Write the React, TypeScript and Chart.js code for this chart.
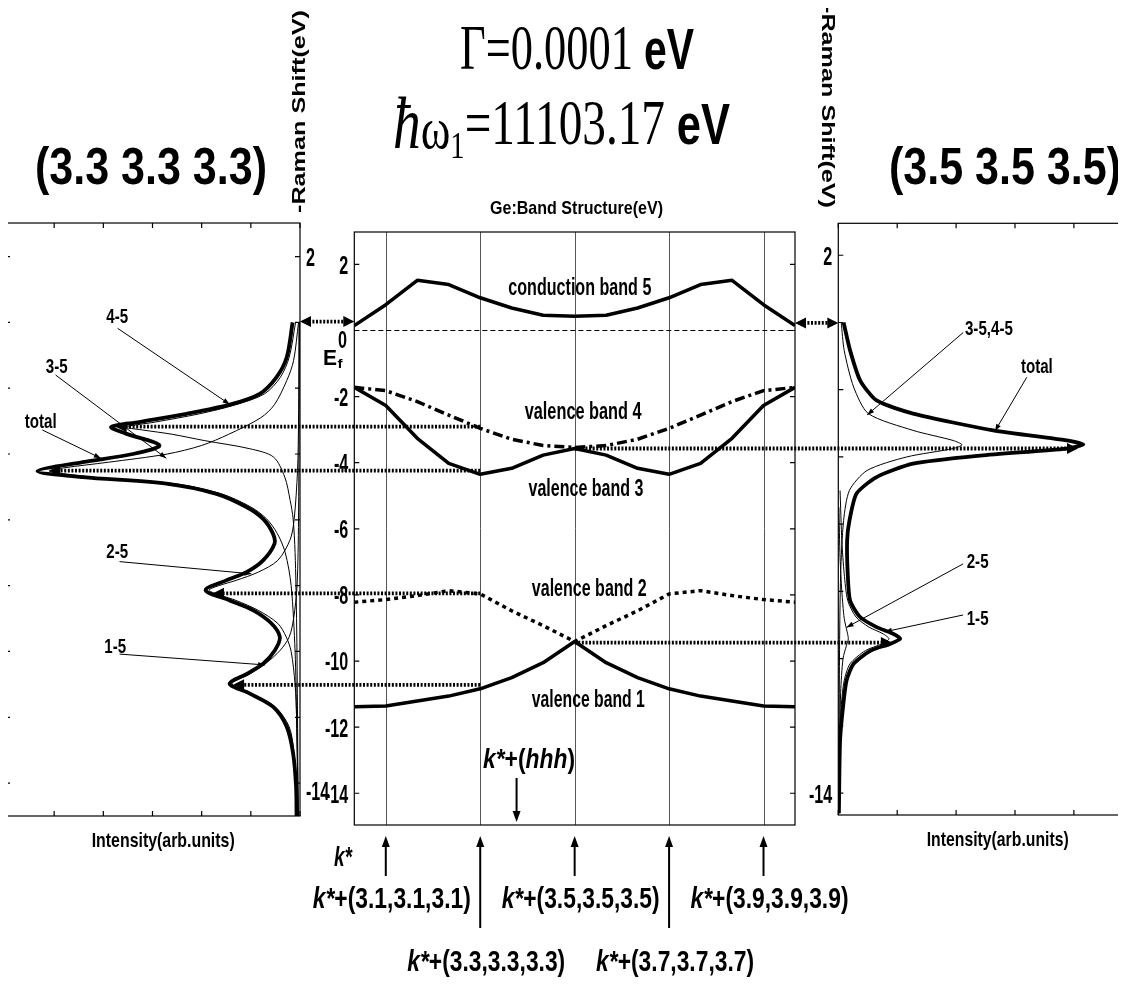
import React, { useEffect, useRef } from "react";
import { Chart, registerables } from "chart.js";

Chart.register(...registerables);

const W = 1140;
const H = 989;

const SANS = '"Liberation Sans", Arial, Helvetica, sans-serif';
const SERIF = '"Liberation Serif", "Times New Roman", Times, serif';
const B = (s: number) => `bold ${s}px ${SANS}`;
const BI = (s: number) => `italic bold ${s}px ${SANS}`;
const SR = (s: number) => `${s}px ${SERIF}`;
const SRI = (s: number) => `italic ${s}px ${SERIF}`;

// ---------------- data ----------------
const E_TICKS = [2, 0, -2, -4, -6, -8, -10, -12, -14];
const LEFT_I_TICKS = [0, 1, 2, 3, 4, 5, 6];
const RIGHT_I_TICKS = [0, 1, 2, 3, 4, 5];
const LEFT_LABEL_VALUES = [2, -14];
const CENTER_LABEL_VALUES = [2, -2, -4, -6, -8, -10, -12, -14];
const RIGHT_LABEL_VALUES = [2, -14];

// centre panel: band structure along k*+(hhh)
const K_NODES = [3.0333, 3.1, 3.1667, 3.2333, 3.3, 3.3667, 3.4333, 3.5, 3.5667, 3.6333, 3.7, 3.7667, 3.8333, 3.9, 3.9667];
const K_GRID = [3.1, 3.3, 3.5, 3.7, 3.9];
const BAND5 = [0.15, 0.78, 1.52, 1.39, 0.99, 0.68, 0.46, 0.43, 0.46, 0.68, 0.99, 1.39, 1.52, 0.78, 0.15];
const BAND4 = [-1.72, -1.82, -2.15, -2.56, -2.96, -3.29, -3.48, -3.54, -3.48, -3.29, -2.96, -2.56, -2.15, -1.82, -1.72];
const BAND3 = [-1.72, -2.27, -3.26, -4.02, -4.35, -4.17, -3.77, -3.57, -3.77, -4.17, -4.35, -4.02, -3.26, -2.27, -1.72];
const BAND2 = [-8.22, -8.14, -8.02, -7.87, -7.97, -8.48, -8.93, -9.41, -8.93, -8.48, -7.97, -7.87, -8.02, -8.14, -8.22];
const BAND1 = [-11.38, -11.36, -11.21, -11.06, -10.84, -10.5, -10.05, -9.41, -10.05, -10.5, -10.84, -11.06, -11.21, -11.36, -11.38];
const EF_LEVEL = 0;
const HHH_K = 3.377;

// left panel: (3.3 3.3 3.3) spectra, Raman shift E vs intensity I
const L_TOTAL_E = [0, -1.06, -1.67, -2.17, -2.5, -2.78, -3.03, -3.18, -3.38, -3.74, -4.0, -4.25, -4.52, -4.7, -4.9, -5.21, -5.61, -5.97, -6.42, -6.73, -7.23, -7.59, -7.84, -8.14, -8.45, -8.75, -9.15, -9.56, -9.96, -10.37, -10.67, -10.98, -11.28, -11.69, -12.29, -13.1, -14.11, -15.0];
const L_TOTAL_I = [0.15, 0.27, 0.48, 0.82, 1.43, 2.31, 3.27, 3.84, 3.54, 2.86, 3.4, 4.42, 5.34, 4.42, 2.72, 1.7, 1.09, 0.75, 0.55, 0.52, 0.75, 1.09, 1.5, 1.92, 1.43, 0.95, 0.58, 0.41, 0.51, 0.75, 1.07, 1.43, 1.02, 0.54, 0.27, 0.14, 0.08, 0.07];
const L_45_E = [0, -1.06, -1.67, -2.17, -2.5, -2.78, -3.03, -3.18, -3.27, -3.4, -3.59, -3.84, -4.09, -4.7, -5.41, -5.97, -7.0, -9.0, -12.0, -15.0];
const L_45_I = [0.09, 0.22, 0.4, 0.72, 1.3, 2.05, 2.95, 3.55, 3.2, 2.6, 1.95, 1.02, 0.54, 0.31, 0.2, 0.14, 0.1, 0.07, 0.05, 0.04];
const L_35_E = [0, -1.16, -1.77, -2.5, -2.9, -3.4, -3.74, -4.0, -4.25, -4.42, -4.52, -4.62, -4.75, -4.9, -5.21, -5.61, -5.97, -6.42, -7.0, -8.0, -10.0, -12.0, -15.0];
const L_35_I = [0.03, 0.13, 0.27, 0.52, 0.8, 1.45, 2.0, 2.7, 3.9, 4.8, 5.1, 4.7, 3.9, 2.55, 1.6, 1.0, 0.68, 0.46, 0.3, 0.18, 0.1, 0.07, 0.04];
const L_25_E = [0, -3.0, -4.5, -6.0, -6.6, -7.23, -7.59, -7.84, -8.0, -8.14, -8.3, -8.45, -8.75, -9.15, -9.56, -10.0, -11.0, -12.0, -15.0];
const L_25_I = [0.02, 0.03, 0.05, 0.12, 0.2, 0.45, 0.85, 1.3, 1.65, 1.85, 1.6, 1.3, 0.85, 0.45, 0.28, 0.18, 0.1, 0.07, 0.03];
const L_15_E = [0, -6.0, -8.0, -9.0, -9.56, -9.96, -10.37, -10.67, -10.98, -11.28, -11.69, -12.29, -13.1, -14.1, -15.0];
const L_15_I = [0.01, 0.03, 0.06, 0.13, 0.22, 0.4, 0.7, 1.0, 1.38, 0.98, 0.5, 0.22, 0.12, 0.07, 0.05];

// right panel: (3.5 3.5 3.5) spectra
const R_TOTAL_E = [0, -0.83, -1.72, -2.32, -2.71, -3.21, -3.51, -3.63, -3.75, -3.96, -4.2, -4.6, -5.09, -5.89, -6.48, -7.47, -8.27, -8.76, -9.06, -9.26, -9.41, -9.56, -9.76, -10.15, -10.65, -11.44, -12.43, -14.6];
const R_TOTAL_I = [0.09, 0.2, 0.37, 0.65, 1.27, 2.63, 3.88, 4.16, 3.88, 2.41, 1.27, 0.65, 0.31, 0.19, 0.15, 0.16, 0.2, 0.37, 0.65, 0.93, 1.05, 0.88, 0.55, 0.26, 0.14, 0.08, 0.03, 0.01];
const R_3545_E = [0, -0.83, -1.92, -2.71, -3.21, -3.51, -3.64, -3.75, -4.0, -4.4, -4.99, -5.89, -7.47, -10.0, -14.6];
const R_3545_I = [0.05, 0.1, 0.26, 0.51, 1.27, 1.95, 2.1, 1.95, 1.16, 0.49, 0.19, 0.09, 0.04, 0.02, 0.01];
const R_15_E = [-5.0, -6.5, -7.47, -8.27, -8.76, -9.06, -9.26, -9.41, -9.56, -9.76, -10.15, -10.65, -11.44, -12.43, -14.6];
const R_15_I = [0.03, 0.06, 0.1, 0.16, 0.3, 0.52, 0.76, 0.86, 0.74, 0.46, 0.2, 0.1, 0.05, 0.03, 0.01];
const R_25_E = [-5.5, -7.0, -8.0, -8.8, -9.2, -9.41, -9.6, -10.0, -11.0, -13.0, -14.6];
const R_25_I = [0.01, 0.03, 0.06, 0.1, 0.15, 0.17, 0.14, 0.08, 0.04, 0.02, 0.01];

// dotted arrows: Raman peak (I on side panel) <- band point (k, E on centre scale)
const LEFT_ARROW_E = [-2.91, -4.24, -7.95, -10.72];
const LEFT_ARROW_K = [3.3, 3.3, 3.3, 3.3];
const LEFT_ARROW_I = [3.75, 5.1, 1.77, 1.36];
const RIGHT_ARROW_E = [-3.57, -9.44];
const RIGHT_ARROW_K = [3.5, 3.5];
const RIGHT_ARROW_I = [4.07, 0.91];
const TOP_ARROW_E = [0.27, 0.23];

// peak labels with leader lines (data coordinates of each side panel)
const LEFT_NOTE_TEXT = ["4-5", "3-5", "total", "2-5", "1-5"];
const LEFT_NOTE_TX = [3.94, 5.17, 5.6, 3.94, 3.98];
const LEFT_NOTE_TE = [-0.02, -1.53, -3.21, -7.15, -10.05];
const LEFT_NOTE_FROM_I = [3.71, 4.97, 5.24, 3.67, 3.67];
const LEFT_NOTE_FROM_E = [-0.18, -1.6, -3.27, -7.27, -10.08];
const LEFT_NOTE_TO_I = [1.43, 2.72, 4.05, 0.99, 0.71];
const LEFT_NOTE_TO_E = [-2.49, -4.13, -4.13, -7.64, -10.41];

const RIGHT_NOTE_TEXT = ["3-5,4-5", "total", "2-5", "1-5"];
const RIGHT_NOTE_TX = [2.15, 3.1, 2.18, 2.18];
const RIGHT_NOTE_TE = [-0.37, -1.5, -7.3, -9.0];
const RIGHT_NOTE_FROM_I = [2.12, 3.2, 2.12, 2.12];
const RIGHT_NOTE_FROM_E = [-0.3, -1.63, -7.18, -8.7];
const RIGHT_NOTE_TO_I = [0.49, 2.66, 0.14, 0.79];
const RIGHT_NOTE_TO_E = [-2.75, -3.23, -9.07, -9.2];

// band labels (centre panel)
const BAND_LABEL_TEXT = ["conduction band 5", "valence band 4", "valence band 3", "valence band 2", "valence band 1"];
const BAND_LABEL_K = [3.511, 3.518, 3.524, 3.531, 3.529];
const BAND_LABEL_E = [1.07, -2.68, -5.0, -8.02, -11.4];
const BAND_LABEL_W = [143, 117, 115, 115, 113];

// ---------------- drawing helpers ----------------
type Part = [string, string, number?];

function drawRich(ctx: any, parts: Part[], x: number, y: number, o: any) {
  ctx.save();
  let total = 0;
  const ws = parts.map((p) => {
    ctx.font = p[1];
    const w = ctx.measureText(p[0]).width;
    total += w;
    return w;
  });
  const sx = o.w ? o.w / total : o.sx || 1;
  ctx.translate(x, y);
  if (o.rot) ctx.rotate(o.rot);
  ctx.scale(sx, 1);
  let cx = o.align === "center" ? -total / 2 : o.align === "right" ? -total : 0;
  ctx.fillStyle = "#000";
  ctx.textBaseline = "alphabetic";
  ctx.textAlign = "left";
  parts.forEach((p, i) => {
    ctx.font = p[1];
    ctx.fillText(p[0], cx, p[2] || 0);
    cx += ws[i];
  });
  ctx.restore();
}

function head(ctx: any, x: number, y: number, ang: number, L: number, hw: number) {
  const c = Math.cos(ang);
  const s = Math.sin(ang);
  const bx = x - c * L;
  const by = y - s * L;
  ctx.beginPath();
  ctx.moveTo(x, y);
  ctx.lineTo(bx - s * hw, by + c * hw);
  ctx.lineTo(bx + s * hw, by - c * hw);
  ctx.closePath();
  ctx.fill();
}

function dotted(ctx: any, xa: number, xb: number, y: number, headA: boolean, headB: boolean) {
  ctx.save();
  ctx.strokeStyle = "#000";
  ctx.fillStyle = "#000";
  ctx.lineWidth = 3.8;
  ctx.setLineDash([2, 1.6]);
  const dir = Math.sign(xb - xa) || 1;
  const L = 11;
  const s = headA ? xa + dir * L * 0.8 : xa;
  const e = headB ? xb - dir * L * 0.8 : xb;
  ctx.beginPath();
  ctx.moveTo(s, y);
  ctx.lineTo(e, y);
  ctx.stroke();
  ctx.setLineDash([]);
  if (headA) head(ctx, xa, y, dir > 0 ? Math.PI : 0, L, 5.5);
  if (headB) head(ctx, xb, y, dir > 0 ? 0 : Math.PI, L, 5.5);
  ctx.restore();
}

function leader(ctx: any, x1: number, y1: number, x2: number, y2: number) {
  ctx.save();
  ctx.strokeStyle = "#000";
  ctx.fillStyle = "#000";
  ctx.lineWidth = 1;
  ctx.beginPath();
  ctx.moveTo(x1, y1);
  ctx.lineTo(x2, y2);
  ctx.stroke();
  head(ctx, x2, y2, Math.atan2(y2 - y1, x2 - x1), 7, 2.5);
  ctx.restore();
}

function vArrow(ctx: any, x: number, yTail: number, yTip: number, lw: number) {
  ctx.save();
  ctx.strokeStyle = "#000";
  ctx.fillStyle = "#000";
  ctx.lineWidth = lw;
  const dir = Math.sign(yTip - yTail);
  ctx.beginPath();
  ctx.moveTo(x, yTail);
  ctx.lineTo(x, yTip - dir * 8);
  ctx.stroke();
  head(ctx, x, yTip, dir > 0 ? Math.PI / 2 : -Math.PI / 2, 11, 4);
  ctx.restore();
}

const TICK_SIZE = 26;
const TICK_FONT = B(TICK_SIZE);
const TICK_SX = 0.62;

function drawFrame(chart: any, spec: any) {
  const ctx = chart.ctx;
  const a = chart.chartArea;
  const xs = chart.scales.x;
  const ys = chart.scales.y;
  ctx.save();
  ctx.strokeStyle = "#000";
  ctx.lineWidth = 1.2;
  ctx.strokeRect(a.left, a.top, a.right - a.left, a.bottom - a.top);
  const tl = 5;
  ctx.beginPath();
  (spec.xTicks || []).forEach((v: number) => {
    const x = xs.getPixelForValue(v);
    ctx.moveTo(x, a.top);
    ctx.lineTo(x, a.top + tl);
    ctx.moveTo(x, a.bottom);
    ctx.lineTo(x, a.bottom - tl);
  });
  E_TICKS.forEach((v) => {
    const y = ys.getPixelForValue(v);
    ctx.moveTo(a.left, y);
    ctx.lineTo(a.left + tl, y);
    ctx.moveTo(a.right, y);
    ctx.lineTo(a.right - tl, y);
  });
  ctx.stroke();
  ctx.restore();
  (spec.labels || []).forEach((v: number) => {
    const y = ys.getPixelForValue(v) + 0.36 * TICK_SIZE + (spec.labelDy && v === -14 ? spec.labelDy : 0);
    if (spec.labelSide === "right") {
      drawRich(ctx, [[String(v), TICK_FONT]], a.right + 6, y, { sx: TICK_SX });
    } else {
      drawRich(ctx, [[String(v), TICK_FONT]], a.left - 6, y, { sx: TICK_SX, align: "right" });
    }
  });
}

function drawNotes(chart: any, text: string[], tx: number[], te: number[], fi: number[], fe: number[], ti: number[], tE: number[]) {
  const ctx = chart.ctx;
  const xs = chart.scales.x;
  const ys = chart.scales.y;
  text.forEach((t, i) => {
    drawRich(ctx, [[t, B(21)]], xs.getPixelForValue(tx[i]), ys.getPixelForValue(te[i]), { sx: 0.72 });
    leader(ctx, xs.getPixelForValue(fi[i]), ys.getPixelForValue(fe[i]), xs.getPixelForValue(ti[i]), ys.getPixelForValue(tE[i]));
  });
}

function curve(E: number[], I: number[], w: number, tension: number) {
  return {
    data: E.map((e, i) => ({ x: I[i], y: e })),
    borderColor: "#000",
    borderWidth: w,
    pointRadius: 0,
    tension,
    fill: false,
    borderJoinStyle: "round",
  };
}

function baseOptions(area: any, x: any, y: any) {
  return {
    animation: false,
    responsive: false,
    devicePixelRatio: 1,
    events: [],
    layout: { padding: { left: area.l, top: area.t, right: W - area.r, bottom: H - area.b } },
    plugins: { legend: { display: false }, tooltip: { enabled: false }, title: { display: false } },
    scales: {
      x: { type: "linear", display: false, ...x },
      y: { type: "linear", display: false, ...y },
    },
  };
}

function leftConfig(): any {
  return {
    type: "line",
    data: {
      datasets: [
        curve(L_TOTAL_E, L_TOTAL_I, 3.8, 0.3),
        curve(L_45_E, L_45_I, 1, 0.3),
        curve(L_35_E, L_35_I, 1, 0.3),
        curve(L_25_E, L_25_I, 1, 0.3),
        curve(L_15_E, L_15_I, 1, 0.3),
      ],
    },
    options: baseOptions({ l: 5, t: 223, r: 300, b: 816 }, { min: 0, max: 6, reverse: true }, { min: -15, max: 3.02 }),
    plugins: [
      {
        id: "leftFrame",
        afterDatasetsDraw(chart: any) {
          drawFrame(chart, { xTicks: LEFT_I_TICKS, labels: LEFT_LABEL_VALUES, labelSide: "right", labelDy: 8 });
          drawNotes(chart, LEFT_NOTE_TEXT, LEFT_NOTE_TX, LEFT_NOTE_TE, LEFT_NOTE_FROM_I, LEFT_NOTE_FROM_E, LEFT_NOTE_TO_I, LEFT_NOTE_TO_E);
        },
      },
    ],
  };
}

function rightConfig(): any {
  return {
    type: "line",
    data: {
      datasets: [
        curve(R_TOTAL_E, R_TOTAL_I, 3.8, 0.22),
        curve(R_3545_E, R_3545_I, 1, 0.25),
        curve(R_15_E, R_15_I, 1, 0.25),
        curve(R_25_E, R_25_I, 1, 0.25),
      ],
    },
    options: baseOptions({ l: 838.3, t: 223.3, r: 1132.8, b: 815 }, { min: 0, max: 5 }, { min: -14.65, max: 2.95 }),
    plugins: [
      {
        id: "rightFrame",
        afterDatasetsDraw(chart: any) {
          drawFrame(chart, { xTicks: RIGHT_I_TICKS, labels: RIGHT_LABEL_VALUES, labelSide: "left" });
          drawNotes(chart, RIGHT_NOTE_TEXT, RIGHT_NOTE_TX, RIGHT_NOTE_TE, RIGHT_NOTE_FROM_I, RIGHT_NOTE_FROM_E, RIGHT_NOTE_TO_I, RIGHT_NOTE_TO_E);
        },
      },
    ],
  };
}

function centerConfig(left: any, right: any): any {
  const bands = [
    { v: BAND5, dash: [] as number[] },
    { v: BAND4, dash: [10, 4, 3, 4] },
    { v: BAND3, dash: [] as number[] },
    { v: BAND2, dash: [4, 4] },
    { v: BAND1, dash: [] as number[] },
  ];
  return {
    type: "line",
    data: {
      datasets: [
        ...bands.map((b) => ({
          data: K_NODES.map((k, i) => ({ x: k, y: b.v[i] })),
          borderColor: "#000",
          borderWidth: 3.5,
          borderDash: b.dash,
          borderJoinStyle: "round",
          pointRadius: 0,
          tension: 0,
          fill: false,
        })),
        {
          data: [K_NODES[0], K_NODES[K_NODES.length - 1]].map((k) => ({ x: k, y: EF_LEVEL })),
          borderColor: "#000",
          borderWidth: 1,
          borderDash: [5, 3],
          pointRadius: 0,
          fill: false,
        },
      ],
    },
    options: baseOptions({ l: 354.3, t: 232, r: 795, b: 825 }, { min: K_NODES[0], max: K_NODES[K_NODES.length - 1] }, { min: -14.96, max: 2.98 }),
    plugins: [
      {
        id: "centerDeco",
        beforeDatasetsDraw(chart: any) {
          const ctx = chart.ctx;
          const a = chart.chartArea;
          const xs = chart.scales.x;
          ctx.save();
          ctx.strokeStyle = "#555";
          ctx.lineWidth = 1;
          K_GRID.forEach((k) => {
            const x = Math.round(xs.getPixelForValue(k)) + 0.5;
            ctx.beginPath();
            ctx.moveTo(x, a.top);
            ctx.lineTo(x, a.bottom);
            ctx.stroke();
          });
          ctx.restore();
        },
        afterDraw(chart: any) {
          const ctx = chart.ctx;
          const xs = chart.scales.x;
          const ys = chart.scales.y;
          const a = chart.chartArea;
          drawFrame(chart, { labels: CENTER_LABEL_VALUES, labelSide: "left" });

          BAND_LABEL_TEXT.forEach((t, i) => {
            drawRich(ctx, [[t, B(24)]], xs.getPixelForValue(BAND_LABEL_K[i]), ys.getPixelForValue(BAND_LABEL_E[i]), { w: BAND_LABEL_W[i], align: "center" });
          });

          // dotted arrows to the spectra
          const lx = left.scales.x;
          const rx = right.scales.x;
          LEFT_ARROW_E.forEach((e, i) => {
            dotted(ctx, xs.getPixelForValue(LEFT_ARROW_K[i]), lx.getPixelForValue(LEFT_ARROW_I[i]), ys.getPixelForValue(e), false, true);
          });
          RIGHT_ARROW_E.forEach((e, i) => {
            dotted(ctx, xs.getPixelForValue(RIGHT_ARROW_K[i]), rx.getPixelForValue(RIGHT_ARROW_I[i]), ys.getPixelForValue(e), false, true);
          });
          dotted(ctx, lx.getPixelForValue(0), a.left, ys.getPixelForValue(TOP_ARROW_E[0]), true, true);
          dotted(ctx, a.right, rx.getPixelForValue(0), ys.getPixelForValue(TOP_ARROW_E[1]), true, true);

          // k-point arrows and labels under the band panel
          K_GRID.forEach((k, i) => {
            const x = xs.getPixelForValue(k);
            const long = i % 2 === 1;
            vArrow(ctx, x, long ? 928 : 876, a.bottom + 11, 2);
            const v = k.toFixed(1);
            drawRich(ctx, [["k*", BI(30)], [`+(${v},${v},${v})`, B(30)]], x + 6, long ? 971 : 908, { w: 158, align: "center" });
          });
          vArrow(ctx, xs.getPixelForValue(HHH_K), 778, a.bottom - 3, 2);
          drawRich(ctx, [["k*", BI(27)], ["+(", B(27)], ["hhh", BI(27)], [")", B(27)]], 483, 768, { w: 92 });
          drawRich(ctx, [["k*", BI(28)]], 334, 866, { w: 18 });

          // E_f^0
          drawRich(ctx, [["E", B(22)]], 323, 365, { w: 14 });
          drawRich(ctx, [["f", B(13)]], 337.5, 368, { w: 5 });
          drawRich(ctx, [["0", B(24)]], 338, 348, { w: 9 });

          // titles and captions
          drawRich(ctx, [["Γ=0.0001 ", SR(63)], ["eV", B(58)]], 460, 68.5, { w: 234 });
          drawRich(ctx, [["ħ", SRI(74), 4], ["ω", SR(60), 4], ["1", SR(38), 14], ["=11103.17 ", SR(63)], ["eV", B(58)]], 393, 143.5, { w: 337 });
          drawRich(ctx, [["(3.3 3.3 3.3)", B(51)]], 35, 183.5, { w: 232 });
          drawRich(ctx, [["(3.5 3.5 3.5)", B(51)]], 889, 183.5, { w: 232 });
          drawRich(ctx, [["-Raman Shift(eV)", B(18)]], 305, 213, { w: 203, rot: -Math.PI / 2 });
          drawRich(ctx, [["-Raman Shift(eV)", B(18)]], 822, 5, { w: 203, rot: Math.PI / 2 });
          drawRich(ctx, [["Ge:Band Structure(eV)", B(19)]], 490, 213.5, { w: 173 });
          drawRich(ctx, [["Intensity(arb.units)", B(21)]], 91.7, 846.5, { w: 143 });
          drawRich(ctx, [["Intensity(arb.units)", B(21)]], 926.7, 845.5, { w: 142 });
        },
      },
    ],
  };
}

export default function App() {
  const leftRef = useRef<HTMLCanvasElement>(null);
  const rightRef = useRef<HTMLCanvasElement>(null);
  const centerRef = useRef<HTMLCanvasElement>(null);

  useEffect(() => {
    const left = new Chart(leftRef.current as HTMLCanvasElement, leftConfig());
    const right = new Chart(rightRef.current as HTMLCanvasElement, rightConfig());
    const center = new Chart(centerRef.current as HTMLCanvasElement, centerConfig(left, right));
    return () => {
      center.destroy();
      right.destroy();
      left.destroy();
    };
  }, []);

  const cs: React.CSSProperties = { position: "absolute", left: 0, top: 0, width: W, height: H };
  return (
    <div style={{ position: "relative", width: 1126, height: 989, margin: -8, overflow: "hidden", background: "#fff" }}>
      <canvas ref={leftRef} width={W} height={H} style={cs} />
      <canvas ref={rightRef} width={W} height={H} style={cs} />
      <canvas ref={centerRef} width={W} height={H} style={cs} />
    </div>
  );
}
